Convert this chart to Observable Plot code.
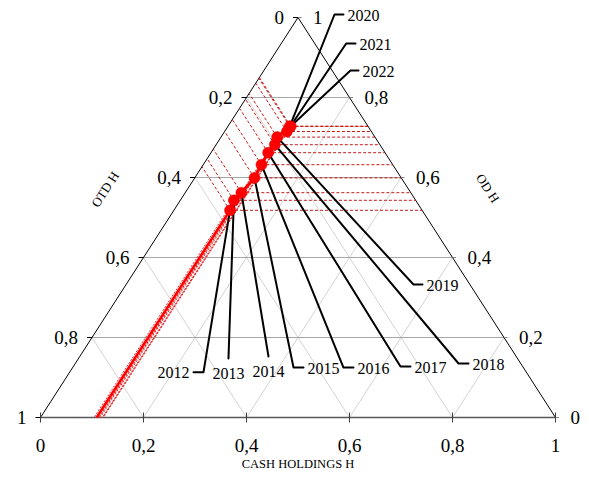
<!DOCTYPE html>
<html><head><meta charset="utf-8">
<script src="https://cdn.jsdelivr.net/npm/d3@7"></script>
<script src="https://cdn.jsdelivr.net/npm/@observablehq/plot@0.6"></script>
<style>body{margin:0;background:#fff}#chart{width:589px;height:495px}</style>
</head><body><div id="chart"></div>
<script>
// ---- data (ternary shares) ----
const years = [2012, 2013, 2014, 2015, 2016, 2017, 2018, 2019, 2020, 2021, 2022];
const odH   = [0.518, 0.543, 0.562, 0.599, 0.632, 0.662, 0.682, 0.701, 0.728, 0.715, 0.728];
const cashH = [0.109, 0.104, 0.109, 0.116, 0.113, 0.111, 0.114, 0.109, 0.120, 0.121, 0.122];
const otdH  = [0.373, 0.353, 0.329, 0.285, 0.255, 0.227, 0.204, 0.190, 0.152, 0.164, 0.150];
const tickValues = [0, 0.2, 0.4, 0.6, 0.8, 1];
const tickLabels = ["0", "0,2", "0,4", "0,6", "0,8", "1"];
const leftTitle = "OTD H", rightTitle = "OD H", bottomTitle = "CASH HOLDINGS H";

// ---- label leader layout (in ternary plane units: X along base, Y = height share) ----
const leaderLayout = [
  {year: 2012, ex: 0.3165, ey: 0.1133, tx: 0.2971, ty: 0.1133, anchor: "end"},
  {year: 2013, ex: 0.3650, ey: 0.1475, tx: 0.3650, ty: 0.1475, anchor: "below"},
  {year: 2014, ex: 0.4427, ey: 0.1525, tx: 0.4427, ty: 0.1525, anchor: "below"},
  {year: 2015, ex: 0.4913, ey: 0.1250, tx: 0.5107, ty: 0.1250, anchor: "start"},
  {year: 2016, ex: 0.5883, ey: 0.1250, tx: 0.6078, ty: 0.1250, anchor: "start"},
  {year: 2017, ex: 0.6990, ey: 0.1275, tx: 0.7184, ty: 0.1275, anchor: "start"},
  {year: 2018, ex: 0.8117, ey: 0.1350, tx: 0.8311, ty: 0.1350, anchor: "start"},
  {year: 2019, ex: 0.7243, ey: 0.3325, tx: 0.7417, ty: 0.3325, anchor: "start"},
  {year: 2020, ex: 0.5709, ey: 1.0075, tx: 0.5883, ty: 1.0075, anchor: "start"},
  {year: 2021, ex: 0.5936, ey: 0.9350, tx: 0.6117, ty: 0.9350, anchor: "start"},
  {year: 2022, ex: 0.6019, ey: 0.8675, tx: 0.6175, ty: 0.8675, anchor: "start"}
];

// ternary -> plane
const pts = years.map((yr, i) => ({
  year: yr, od: odH[i], cash: cashH[i], otd: otdH[i],
  X: cashH[i] + odH[i] / 2, Y: odH[i]
}));
const byYear = new Map(pts.map(p => [p.year, p]));

// grid
const inner = tickValues.filter(v => v > 0 && v < 1);
const gridH = inner.map(v => ({x1: v / 2, y1: v, x2: 1 - v / 2, y2: v}));
const gridC = inner.map(v => ({x1: v, y1: 0, x2: v + (1 - v) / 2, y2: 1 - v}));
const gridO = inner.map(v => ({x1: 1 - v, y1: 0, x2: (1 - v) / 2, y2: 1 - v}));

// projections
const projBottom = pts.map(p => ({x1: p.X, y1: p.Y, x2: p.cash, y2: 0}));
const projRight = pts.map(p => ({x1: p.X, y1: p.Y, x2: 1 - p.od / 2, y2: p.od}));
const projLeft = pts.map(p => ({x1: p.X, y1: p.Y, x2: (1 - p.otd) / 2, y2: 1 - p.otd}));

// leaders
const leaderPaths = leaderLayout.flatMap(l => {
  const p = byYear.get(l.year);
  return [{year: l.year, x: p.X, y: p.Y}, {year: l.year, x: l.ex, y: l.ey}, {year: l.year, x: l.tx, y: l.ty}];
});

const tx = 5 / 515, ty = 5 / 400;
const font = "'Liberation Serif', 'Times New Roman', serif";

const chart = Plot.plot({
  width: 589, height: 495,
  marginLeft: 40, marginRight: 34, marginTop: 17, marginBottom: 78,
  x: {domain: [0, 1], axis: null},
  y: {domain: [0, 1], axis: null},
  style: {background: "#fff", fontFamily: font},
  marks: [
    // gridlines
    Plot.link(gridC, {x1: "x1", y1: "y1", x2: "x2", y2: "y2", stroke: "#d4d4d4", strokeWidth: 1}),
    Plot.link(gridO, {x1: "x1", y1: "y1", x2: "x2", y2: "y2", stroke: "#d4d4d4", strokeWidth: 1}),
    Plot.link(gridH, {x1: "x1", y1: "y1", x2: "x2", y2: "y2", stroke: "#a6a6a6", strokeWidth: 1}),
    // triangle edges
    Plot.link([{x1: 0, y1: 0, x2: 0.5, y2: 1}, {x1: 0.5, y1: 1, x2: 1, y2: 0}], {x1: "x1", y1: "y1", x2: "x2", y2: "y2", stroke: "#000", strokeWidth: 1}),
    Plot.link([{x1: 0, y1: 0, x2: 1, y2: 0}], {x1: "x1", y1: "y1", x2: "x2", y2: "y2", stroke: "#595959", strokeWidth: 1.6}),
    // axis ticks
    Plot.link(tickValues, {x1: v => (1 - v) / 2 - tx, x2: v => (1 - v) / 2, y1: v => 1 - v, y2: v => 1 - v, stroke: "#000", strokeWidth: 1}),
    Plot.link(tickValues, {x1: v => 1 - v / 2, x2: v => 1 - v / 2 + tx * 0.7, y1: v => v, y2: v => v, stroke: "#7a8a99", strokeWidth: 1}),
    Plot.link(tickValues, {x1: v => v, x2: v => v, y1: -ty, y2: ty, stroke: "#404040", strokeWidth: 1}),
    // tick labels
    Plot.text(tickValues, {x: v => (1 - v) / 2, y: v => 1 - v, text: (v, i) => tickLabels[i], dx: -14, textAnchor: "end", fontSize: 19, fill: "#000"}),
    Plot.text(tickValues, {x: v => 1 - v / 2, y: v => v, text: (v, i) => tickLabels[i], dx: 15, textAnchor: "start", fontSize: 19, fill: "#000"}),
    Plot.text(tickValues, {x: v => v, y: 0, text: (v, i) => tickLabels[i], dy: 28, textAnchor: "middle", fontSize: 19, fill: "#000"}),
    // axis titles
    Plot.text([leftTitle], {x: 0.126, y: 0.57, text: d => d, rotate: -57, fontSize: 13, fill: "#000"}),
    Plot.text([rightTitle], {x: 0.868, y: 0.5725, text: d => d, rotate: 57, fontSize: 13, fill: "#000"}),
    Plot.text([bottomTitle], {x: 0.5, y: 0, text: d => d, dy: 46, fontSize: 12.5, fill: "#000"}),
    // projection lines
    Plot.link(projLeft, {x1: "x1", y1: "y1", x2: "x2", y2: "y2", stroke: "#c00000", strokeWidth: 0.9, strokeDasharray: "3,2"}),
    Plot.link(projRight, {x1: "x1", y1: "y1", x2: "x2", y2: "y2", stroke: "#c00000", strokeWidth: 0.9, strokeDasharray: "3,2"}),
    Plot.link(projBottom, {x1: "x1", y1: "y1", x2: "x2", y2: "y2", stroke: "#e03030", strokeWidth: 1, strokeDasharray: "2,1.5"}),
    Plot.link(projBottom.slice(0, 1), {x1: "x1", y1: "y1", x2: "x2", y2: "y2", stroke: "#ff0000", strokeWidth: 2.5}),
    // series line
    Plot.line(pts, {x: "X", y: "Y", stroke: "#ff0000", strokeWidth: 3}),
    // leaders
    Plot.line(leaderPaths, {x: "x", y: "y", z: "year", stroke: "#000", strokeWidth: 2}),
    // dots
    Plot.dot(pts, {x: "X", y: "Y", r: 5.5, fill: "#ff0000", stroke: "#e00000", strokeWidth: 0.5}),
    // year labels
    Plot.text(leaderLayout.filter(l => l.anchor === "start"), {x: "tx", y: "ty", text: l => String(l.year), dx: 4, dy: 1, textAnchor: "start", fontSize: 16, fill: "#000"}),
    Plot.text(leaderLayout.filter(l => l.anchor === "end"), {x: "tx", y: "ty", text: l => String(l.year), dx: -4, dy: 1, textAnchor: "end", fontSize: 16, fill: "#000"}),
    Plot.text(leaderLayout.filter(l => l.anchor === "below"), {x: "tx", y: "ty", text: l => String(l.year), dy: 15, textAnchor: "middle", fontSize: 16, fill: "#000"})
  ]
});
document.getElementById("chart").appendChild(chart);
</script>
</body></html>
